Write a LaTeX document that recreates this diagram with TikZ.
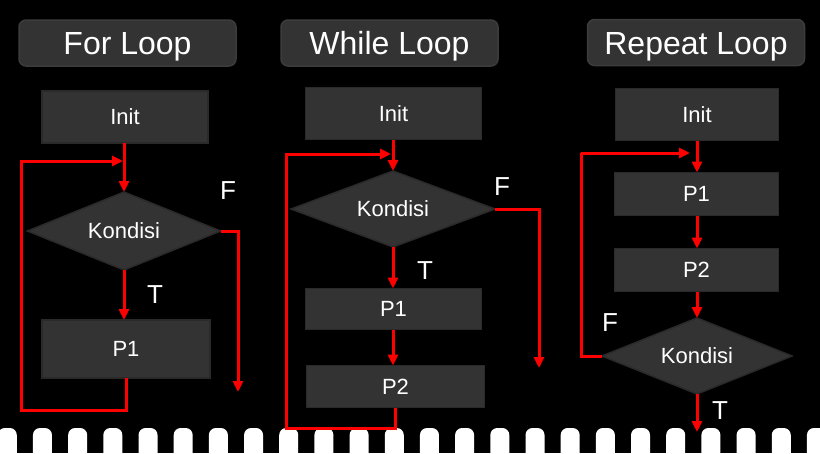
\documentclass[tikz,border=0pt]{standalone}
\usepackage{fontspec}
\setmainfont{Liberation Sans}
\usetikzlibrary{shapes.geometric,arrows.meta}
\definecolor{boxfill}{HTML}{333333}
\definecolor{boxline}{HTML}{2A2A2A}
\definecolor{titleline}{HTML}{3C3C3C}
\definecolor{flow}{HTML}{FF0000}
\begin{document}
\begin{tikzpicture}[x=1pt,y=-1pt,
  titlebox/.style={draw=titleline,fill=boxfill,rounded corners=7pt,line width=1.5pt,text=white,font=\fontsize{32}{36}\selectfont,minimum width=217pt,minimum height=46pt,inner sep=0pt,text height=23pt,text depth=0pt},
  procbox/.style={draw=boxline,fill=boxfill,line width=1.5pt,text=white,font=\fontsize{22}{26}\selectfont,inner sep=0pt,outer sep=0pt},
  decide/.style={diamond,aspect=2.5,draw=boxline,fill=boxfill,line width=1.5pt,text=white,font=\fontsize{22}{26}\selectfont,inner sep=0pt,outer sep=0pt},
  lbl/.style={text=white,font=\fontsize{26}{30}\selectfont,inner sep=0pt},
  flowline/.style={draw=flow,line width=3pt},
  flowarrow/.style={flowline,-{Triangle[length=11pt,width=10pt]}},
  hole/.style={fill=white,rounded corners=7pt}
]
\useasboundingbox (0,0) rectangle (820,453);
\fill[black] (0,0) rectangle (820,453);

% film strip holes
\begin{scope}
\clip (0,0) rectangle (820,453);
\foreach \i in {0,...,23} {
  \fill[hole] ({-2.2+35.18*\i},428) rectangle ++(19,35);
}
\end{scope}

% ---------- For Loop ----------
\node[titlebox] (t1) at (127.5,43) {For Loop};
\node[procbox,minimum width=166pt,minimum height=52pt] (i1) at (125,117) {Init};
\node[decide,minimum width=193pt,minimum height=78pt] (k1) at (124,231) {Kondisi};
\node[procbox,minimum width=168pt,minimum height=58pt] (p1a) at (126,349) {P1};
\node[lbl] (F1) at (228,191) {F};
\node[lbl] (T1) at (155,295) {T};
\coordinate (b1) at (21,410);
\coordinate (e1) at (123,161);
\coordinate (f1) at (238,392);
\draw[flowarrow] (k1.north |- i1.south) -- (k1.north);
\draw[flowarrow] (k1.south) -- (k1.south |- p1a.north);
\draw[flowarrow] (p1a.south) -- (p1a.south |- b1) -- (b1) -- (b1 |- e1) -- (e1);
\draw[flowarrow] (k1.east) -- (k1.east -| f1) -- (f1);

% ---------- While Loop ----------
\node[titlebox] (t2) at (389.5,43) {While Loop};
\node[procbox,minimum width=176pt,minimum height=52pt] (i2) at (393.5,113.5) {Init};
\node[decide,minimum width=204pt,minimum height=76pt] (k2) at (393,209) {Kondisi};
\node[procbox,minimum width=176pt,minimum height=41pt] (p2a) at (393.5,309) {P1};
\node[procbox,minimum width=178pt,minimum height=42pt] (p2b) at (395.5,386.5) {P2};
\node[lbl] (F2) at (502,187) {F};
\node[lbl] (T2) at (425,271) {T};
\coordinate (b2) at (286,428);
\coordinate (e2) at (391,154);
\coordinate (f2) at (539,368);
\draw[flowarrow] (k2.north |- i2.south) -- (k2.north);
\draw[flowarrow] (k2.south) -- (k2.south |- p2a.north);
\draw[flowarrow] (p2a.south -| k2.south) -- (k2.south |- p2b.north);
\draw[flowarrow] (p2b.south) -- (p2b.south |- b2) -- (b2) -- (b2 |- e2) -- (e2);
\draw[flowarrow] (k2.east) -- (k2.east -| f2) -- (f2);

% ---------- Repeat Loop ----------
\node[titlebox] (t3) at (696,42.5) {Repeat Loop};
\node[procbox,minimum width=163pt,minimum height=52pt] (i3) at (697,114.5) {Init};
\node[procbox,minimum width=164pt,minimum height=43pt] (p3a) at (696.5,194) {P1};
\node[procbox,minimum width=164pt,minimum height=43pt] (p3b) at (696.5,270) {P2};
\node[decide,minimum width=190pt,minimum height=76pt] (k3) at (697,356) {Kondisi};
\node[lbl] (F3) at (610,323) {F};
\node[lbl] (T3) at (720,411) {T};
\coordinate (b3) at (581,356);
\coordinate (e3) at (690,153);
\coordinate (d3) at (697,432);
\draw[flowarrow] (k3.north |- i3.south) -- (k3.north |- p3a.north);
\draw[flowarrow] (k3.north |- p3a.south) -- (k3.north |- p3b.north);
\draw[flowarrow] (k3.north |- p3b.south) -- (k3.north);
\draw[flowarrow] (k3.south) -- (d3);
\draw[flowline] (k3.west) -- (b3) -- (b3 |- e3);
\draw[flowarrow] (b3 |- e3) -- (e3);
\end{tikzpicture}
\end{document}
